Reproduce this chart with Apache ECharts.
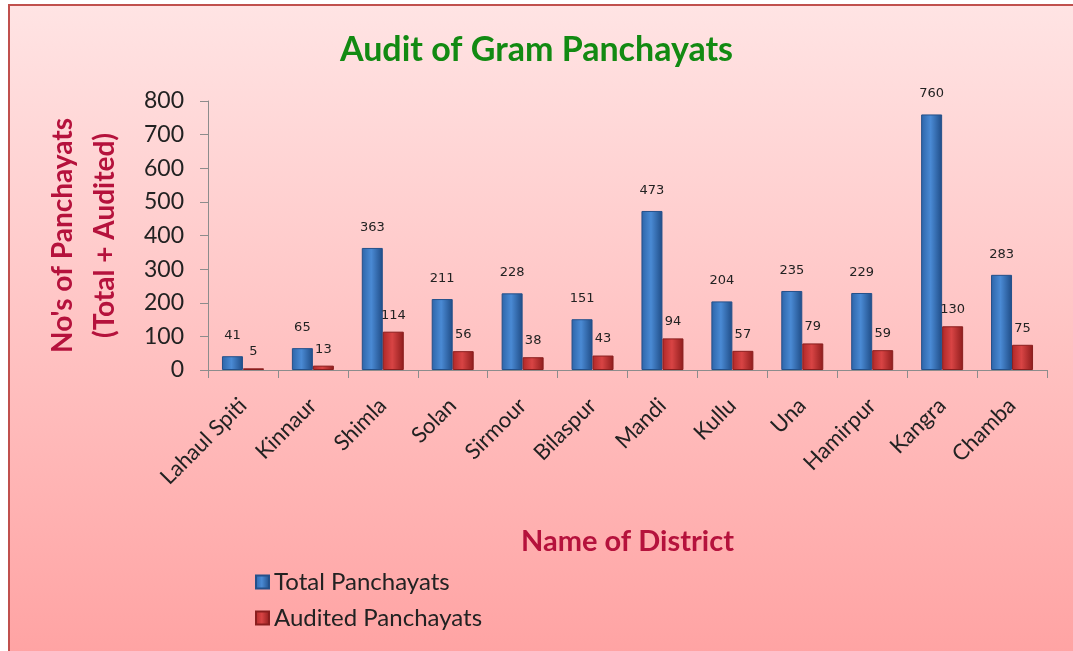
<html>
<head>
<meta charset="utf-8">
<title>Audit of Gram Panchayats</title>
<script src="https://cdn.jsdelivr.net/npm/echarts@6/dist/echarts.min.js"></script>
<style>
  body { margin: 0; background: #fff; }
  #main { width: 1073px; height: 651px; }
</style>
</head>
<body>
<div id="main"></div>
<script type="text/javascript">
var districts = ['Lahaul Spiti', 'Kinnaur', 'Shimla', 'Solan', 'Sirmour', 'Bilaspur',
                 'Mandi', 'Kullu', 'Una', 'Hamirpur', 'Kangra', 'Chamba'];
var totalPanchayats = [41, 65, 363, 211, 228, 151, 473, 204, 235, 229, 760, 283];
var auditedPanchayats = [5, 13, 114, 56, 38, 43, 94, 57, 79, 59, 130, 75];

var chart = echarts.init(document.getElementById('main'));

function barGrad(edge, mid, dark) {
  return new echarts.graphic.LinearGradient(0, 0, 1, 0, [
    { offset: 0, color: edge },
    { offset: 0.45, color: mid },
    { offset: 1, color: dark }
  ]);
}

var font = 'Lato, "Open Sans", sans-serif';

var option = {
  backgroundColor: '#ffffff',
  graphic: [{
    type: 'rect',
    z: -10,
    shape: { x: 9, y: 5, width: 1070, height: 650 },
    style: {
      fill: new echarts.graphic.LinearGradient(0, 0, 0, 1, [
        { offset: 0, color: '#ffe4e4' },
        { offset: 1, color: '#ffa3a3' }
      ]),
      stroke: '#c0504d',
      lineWidth: 2
    }
  }],
  title: {
    text: 'Audit of Gram Panchayats',
    left: 'center',
    top: 28,
    textStyle: {
      color: '#128a12',
      fontFamily: font,
      fontWeight: 'bold',
      fontSize: 34
    }
  },
  legend: {
    orient: 'vertical',
    left: 250,
    top: 565,
    itemWidth: 13,
    itemHeight: 13,
    itemGap: 12,
    icon: 'rect',
    textStyle: { fontFamily: font, fontSize: 24, color: '#222' },
    data: ['Total Panchayats', 'Audited Panchayats']
  },
  grid: { left: 208, right: 26, top: 101, bottom: 281, containLabel: false },
  xAxis: {
    type: 'category',
    data: districts,
    name: 'Name of District',
    nameLocation: 'middle',
    nameGap: 157,
    nameTextStyle: { color: '#b5123c', fontFamily: font, fontWeight: 'bold', fontSize: 29 },
    axisLine: { lineStyle: { color: '#8c8c8c' } },
    axisTick: { show: true, length: 8, lineStyle: { color: '#8c8c8c' } },
    axisLabel: { rotate: 45, fontFamily: font, fontSize: 22, color: '#222', margin: 32, interval: 0 }
  },
  yAxis: {
    type: 'value',
    min: 0,
    max: 800,
    interval: 100,
    name: "No's of Panchayats\n(Total + Audited)",
    nameLocation: 'middle',
    nameGap: 82,
    nameRotate: 90,
    nameTextStyle: { color: '#b5123c', fontFamily: font, fontWeight: 'bold', fontSize: 28, lineHeight: 42 },
    axisLine: { show: true, lineStyle: { color: '#8c8c8c' } },
    axisTick: { show: true, length: 8, lineStyle: { color: '#8c8c8c' } },
    splitLine: { show: false },
    axisLabel: { fontFamily: font, fontSize: 23, color: '#222', margin: 24 }
  },
  series: [{
    name: 'Total Panchayats',
    type: 'bar',
    data: totalPanchayats,
    barWidth: 21,
    barGap: '0%',
    itemStyle: {
      color: barGrad('#2d64a8', '#4a8ad4', '#1f4c86'),
      borderColor: '#24508a',
      borderWidth: 1
    },
    label: {
      show: true,
      position: 'top',
      distance: 14,
      fontFamily: '"DejaVu Sans", sans-serif',
      fontSize: 13,
      color: '#222'
    }
  }, {
    name: 'Audited Panchayats',
    type: 'bar',
    data: auditedPanchayats,
    barWidth: 21,
    itemStyle: {
      color: barGrad('#b02828', '#d84444', '#8e1c1c'),
      borderColor: '#8a1e1e',
      borderWidth: 1
    },
    label: {
      show: true,
      position: 'top',
      distance: 10,
      fontFamily: '"DejaVu Sans", sans-serif',
      fontSize: 13,
      color: '#222'
    }
  }]
};

chart.setOption(option);
</script>
</body>
</html>
